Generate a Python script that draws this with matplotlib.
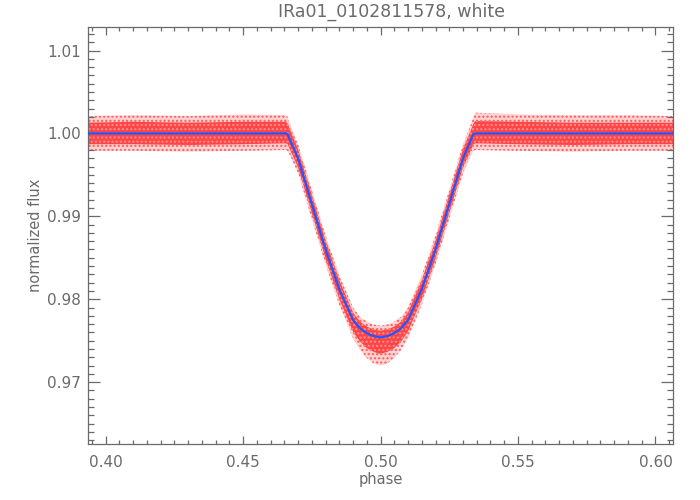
import matplotlib
matplotlib.use("Agg")
import matplotlib.pyplot as plt
import numpy as np
from matplotlib.ticker import MultipleLocator, FormatStrFormatter

# ---- data ----
title = "IRa01_0102811578, white"
x_label = "phase"
y_label = "normalized flux"

# model light curve (blue)
model_phase = [0.3935, 0.4100, 0.4300, 0.4500, 0.4655, 0.4662, 0.4670, 0.4700,
               0.4750, 0.4800, 0.4850, 0.4900, 0.4925, 0.4950, 0.4975, 0.5000,
               0.5025, 0.5050, 0.5075, 0.5100, 0.5150, 0.5200, 0.5250, 0.5300,
               0.5330, 0.5338, 0.5345, 0.5500, 0.5700, 0.5900, 0.6065]
model_flux = [1.0000, 1.0000, 1.0000, 1.0000, 1.0000, 0.9999, 0.9993, 0.9970,
              0.9915, 0.9860, 0.9812, 0.9775, 0.9765, 0.9759, 0.97555, 0.9754,
              0.97555, 0.9759, 0.9765, 0.9775, 0.9812, 0.9860, 0.9915, 0.9970,
              0.9993, 0.9999, 1.0000, 1.0000, 1.0000, 1.0000, 1.0000]

# spread of the red data points around the model (outer sparse / inner dense)
spread_hi_outer = [0.0021, 0.0022, 0.0021, 0.0023, 0.0022, 0.0021, 0.0019, 0.0017,
                   0.0017, 0.0017, 0.0017, 0.0015, 0.0014, 0.0014, 0.0014, 0.0014,
                   0.0014, 0.0014, 0.0014, 0.0015, 0.0017, 0.0017, 0.0017, 0.0017,
                   0.0019, 0.0021, 0.0025, 0.0023, 0.0022, 0.0022, 0.0021]
spread_lo_outer = [0.0021, 0.0021, 0.0022, 0.0021, 0.0020, 0.0020, 0.0019, 0.0018,
                   0.0018, 0.0018, 0.0019, 0.0022, 0.0026, 0.0030, 0.0033, 0.0034,
                   0.0033, 0.0030, 0.0026, 0.0022, 0.0019, 0.0018, 0.0018, 0.0018,
                   0.0019, 0.0020, 0.0020, 0.0021, 0.0022, 0.0021, 0.0021]
spread_hi_inner = [0.0013, 0.0014, 0.0013, 0.0014, 0.0014, 0.0013, 0.0012, 0.0011,
                   0.0011, 0.0011, 0.0011, 0.0009, 0.0008, 0.0008, 0.0008, 0.0008,
                   0.0008, 0.0008, 0.0008, 0.0009, 0.0011, 0.0011, 0.0011, 0.0011,
                   0.0012, 0.0013, 0.0015, 0.0014, 0.0013, 0.0013, 0.0013]
spread_lo_inner = [0.0013, 0.0013, 0.0014, 0.0013, 0.0012, 0.0012, 0.0012, 0.0011,
                   0.0011, 0.0011, 0.0012, 0.0014, 0.0016, 0.0018, 0.0019, 0.0020,
                   0.0019, 0.0018, 0.0016, 0.0014, 0.0012, 0.0011, 0.0011, 0.0011,
                   0.0012, 0.0012, 0.0012, 0.0013, 0.0014, 0.0013, 0.0013]

x_range = (0.3935, 0.6065)
y_range = (0.9625, 1.0128)
x_major, x_minor = 0.05, 0.005
y_major, y_minor = 0.01, 0.001

# ---- drawing ----
gray = "#6a6a6a"
plt.rcParams["font.family"] = ["DejaVu Sans"]
plt.rcParams["hatch.linewidth"] = 1.0

fig = plt.figure(figsize=(7, 5), dpi=100)
ax = fig.add_axes([0.1253, 0.1114, 0.8366, 0.834])

ph = np.array(model_phase)
fl = np.array(model_flux)
ax.fill_between(ph, fl + np.array(spread_hi_outer), fl - np.array(spread_lo_outer),
                facecolor="#ffd2d2", edgecolor="#ff5a5a", hatch="....",
                linewidth=0, zorder=1)
ax.fill_between(ph, fl + np.array(spread_hi_inner), fl - np.array(spread_lo_inner),
                facecolor="#ff4545", edgecolor="#ff9090", hatch="....",
                linewidth=0, zorder=2)
ax.plot(ph, fl, color="#2255ff", linewidth=1.6, zorder=3)

ax.set_xlim(*x_range)
ax.set_ylim(*y_range)
ax.xaxis.set_major_locator(MultipleLocator(x_major))
ax.xaxis.set_minor_locator(MultipleLocator(x_minor))
ax.yaxis.set_major_locator(MultipleLocator(y_major))
ax.yaxis.set_minor_locator(MultipleLocator(y_minor))
ax.xaxis.set_major_formatter(FormatStrFormatter("%.2f"))
ax.yaxis.set_major_formatter(FormatStrFormatter("%.2f"))

ax.tick_params(axis="both", which="both", direction="in", top=True, right=True,
               colors=gray, labelcolor=gray, labelsize=11, width=0.9)
ax.tick_params(axis="x", which="major", length=6, pad=8)
ax.tick_params(axis="x", which="minor", length=3)
ax.tick_params(axis="y", which="major", length=8.5, pad=5)
ax.tick_params(axis="y", which="minor", length=4.2)
for s in ax.spines.values():
    s.set_color(gray)
    s.set_linewidth(0.9)

ax.set_xlabel(x_label, color=gray, fontsize=10.5, labelpad=1)
ax.set_ylabel(y_label, color=gray, fontsize=10.5, labelpad=2.5)
fig.text(391 / 700, 1 - 12 / 500, title, color=gray, fontsize=12.5,
         ha="center", va="center")

fig.savefig("out.png", dpi=100)
